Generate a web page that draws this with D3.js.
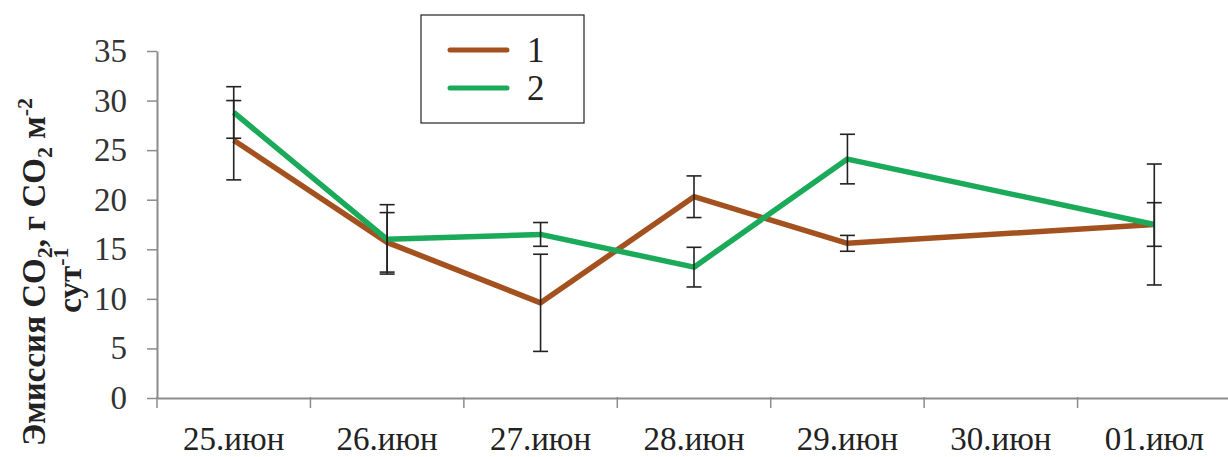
<!DOCTYPE html>
<html>
<head>
<meta charset="utf-8">
<script src="https://cdn.jsdelivr.net/npm/d3@7"></script>
</head>
<body style="margin:0">
<svg id="chart" width="1228" height="457"></svg>
<script>
// даты по оси X
var dates = ["25.июн", "26.июн", "27.июн", "28.июн", "29.июн", "30.июн", "01.июл"];
// серия 1 (30.июн нет данных)
var series1 = [26.0, 15.7, 9.6, 20.3, 15.6, null, 17.5];
var err1 = [4.0, 3.0, 4.9, 2.1, 0.8, null, 6.1];
// серия 2
var series2 = [28.8, 16.0, 16.5, 13.2, 24.1, null, 17.5];
var err2 = [2.6, 3.5, 1.2, 2.0, 2.5, null, 2.2];
var yTicks = [0, 5, 10, 15, 20, 25, 30, 35];
var seriesNames = ["1", "2"];
var seriesColors = ["#a3521f", "#1ba95a"];

var width = 1228, height = 457;
var margin = {top: 51, right: -3, bottom: 59, left: 157};
var font = "Liberation Serif";

var svg = d3.select("#chart");

var x = d3.scaleBand()
    .domain(dates)
    .range([margin.left, width - margin.right])
    .padding(0);

var y = d3.scaleLinear()
    .domain([0, 35])
    .range([height - margin.bottom, margin.top]);

var axisColor = "#8c8c8c";

// ось Y
var yAxis = svg.append("g")
    .attr("transform", "translate(" + margin.left + ",0)")
    .call(d3.axisLeft(y).tickValues(yTicks).tickSize(10).tickSizeOuter(0).tickPadding(20))
    .attr("font-family", font)
    .attr("font-size", 33);
yAxis.select(".domain").attr("stroke", axisColor).attr("stroke-width", 2);
yAxis.selectAll(".tick line").attr("stroke", axisColor).attr("stroke-width", 1.5);
yAxis.selectAll("text").attr("fill", "#333");

// ось X
var xAxis = svg.append("g")
    .attr("transform", "translate(0," + y(0) + ")")
    .call(d3.axisBottom(x).tickSize(0).tickSizeOuter(0))
    .attr("font-family", font)
    .attr("font-size", 33);
xAxis.select(".domain").attr("stroke", axisColor).attr("stroke-width", 2);
xAxis.selectAll("text")
    .attr("fill", "#222")
    .attr("y", 52)
    .attr("dy", 0);

// деления между категориями
svg.append("g").selectAll("line")
    .data(dates)
    .enter().append("line")
    .attr("x1", function(d) { return x(d); })
    .attr("x2", function(d) { return x(d); })
    .attr("y1", y(0) - 1)
    .attr("y2", y(0) + 10)
    .attr("stroke", axisColor)
    .attr("stroke-width", 1.5);

var cx = function(i) { return x(dates[i]) + x.bandwidth() / 2; };

function pts(vals) {
    // пропуск 30.июн: линия соединяет соседние точки
    return vals.map(function(v, i) { return {i: i, v: v}; }).filter(function(d) { return d.v != null; });
}

var line = d3.line()
    .x(function(d) { return cx(d.i); })
    .y(function(d) { return y(d.v); });

var all = [[series1, err1], [series2, err2]];

all.forEach(function(s, k) {
    svg.append("path")
        .datum(pts(s[0]))
        .attr("fill", "none")
        .attr("stroke", seriesColors[k])
        .attr("stroke-width", 5.5)
        .attr("stroke-linejoin", "round")
        .attr("d", line);
});

// планки погрешностей
all.forEach(function(s, k) {
    var data = s[0].map(function(v, i) { return {i: i, v: v, e: s[1][i]}; })
        .filter(function(d) { return d.v != null; });
    var g = svg.append("g").attr("stroke", "#222").attr("stroke-width", 1.6);
    g.selectAll(".v").data(data).enter().append("line")
        .attr("x1", function(d) { return cx(d.i); })
        .attr("x2", function(d) { return cx(d.i); })
        .attr("y1", function(d) { return y(d.v + d.e); })
        .attr("y2", function(d) { return y(d.v - d.e); });
    [1, -1].forEach(function(sg) {
        g.selectAll(".c" + sg).data(data).enter().append("line")
            .attr("x1", function(d) { return cx(d.i) - 7.5; })
            .attr("x2", function(d) { return cx(d.i) + 7.5; })
            .attr("y1", function(d) { return y(d.v + sg * d.e); })
            .attr("y2", function(d) { return y(d.v + sg * d.e); });
    });
});

// легенда
var legend = svg.append("g");
legend.append("rect")
    .attr("x", 421).attr("y", 15)
    .attr("width", 163).attr("height", 108)
    .attr("fill", "#fff")
    .attr("stroke", "#222")
    .attr("stroke-width", 1.2);
seriesNames.forEach(function(n, k) {
    var ly = 50 + k * 38;
    legend.append("line")
        .attr("x1", 450).attr("x2", 507)
        .attr("y1", ly).attr("y2", ly)
        .attr("stroke", seriesColors[k])
        .attr("stroke-width", 5)
        .attr("stroke-linecap", "round");
    legend.append("text")
        .attr("x", 527).attr("y", ly + 12)
        .attr("font-family", font)
        .attr("font-size", 35)
        .attr("fill", "#222")
        .text(n);
});

// подпись оси Y
var title = svg.append("text")
    .attr("transform", "translate(45,272) rotate(-90)")
    .attr("text-anchor", "middle")
    .attr("font-family", font)
    .attr("font-size", 33)
    .attr("font-weight", "bold")
    .attr("fill", "#222");
title.append("tspan").attr("x", 0).attr("y", 0).text("Эмиссия CO");
title.append("tspan").attr("dy", 7).attr("font-size", 22).text("2");
title.append("tspan").attr("dy", -7).text(", г CO");
title.append("tspan").attr("dy", 7).attr("font-size", 22).text("2");
title.append("tspan").attr("dy", -7).text(" м");
title.append("tspan").attr("dy", -13).attr("font-size", 22).text("-2");
var title2 = svg.append("text")
    .attr("transform", "translate(81,280) rotate(-90)")
    .attr("text-anchor", "middle")
    .attr("font-family", font)
    .attr("font-size", 33)
    .attr("font-weight", "bold")
    .attr("fill", "#222");
title2.append("tspan").text("сут");
title2.append("tspan").attr("dy", -13).attr("font-size", 22).text("-1");
</script>
</body>
</html>
